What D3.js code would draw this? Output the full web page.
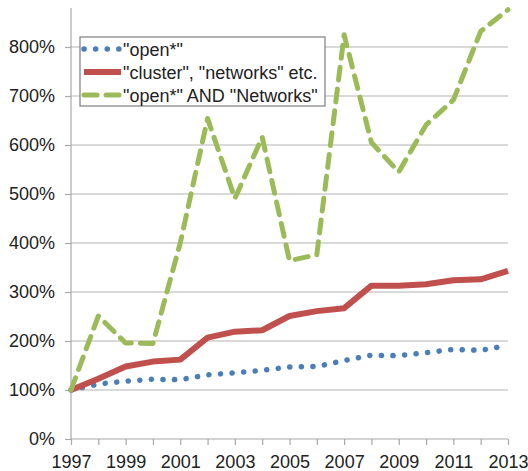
<!DOCTYPE html>
<html>
<head>
  <script src="https://d3js.org/d3.v7.min.js"></script>
  <style>
    body { margin: 0; background: #fff; }
    text { font-family: "Liberation Sans", Arial, sans-serif; fill: #222; }
  </style>
</head>
<body>
  <svg id="chart"></svg>
  <script>
    // years and the three series (in %)
    var years = d3.range(1997, 2014);
    var seriesNames = ['"open*"', '"cluster", "networks" etc.', '"open*" AND "Networks"'];
    var openVals = [100, 112, 118, 122, 121, 131, 135, 140, 147, 148, 160, 171, 170, 176, 183, 181, 191];
    var clusterVals = [100, 123, 148, 158, 162, 207, 219, 222, 251, 261, 267, 313, 313, 316, 324, 326, 343];
    var networkVals = [100, 251, 196, 195, 400, 654, 491, 616, 364, 376, 825, 605, 545, 641, 692, 832, 876];
    var yTicks = [0, 100, 200, 300, 400, 500, 600, 700, 800];
    var xLabels = [1997, 1999, 2001, 2003, 2005, 2007, 2009, 2011, 2013];

    var width = 528, height = 471;
    var svg = d3.select("#chart").attr("width", width).attr("height", height);

    var x = d3.scaleLinear().domain([1997, 2013]).range([71, 508]);
    var y = d3.scaleLinear().domain([0, 800]).range([439, 47]);

    // gridlines
    svg.append("g").selectAll("line")
      .data(yTicks.slice(1))
      .enter().append("line")
      .attr("x1", x(1997)).attr("x2", x(2013))
      .attr("y1", function(d) { return y(d); }).attr("y2", function(d) { return y(d); })
      .attr("stroke", "#b4b4b4").attr("stroke-width", 1.2);

    // y axis
    var yAxis = svg.append("g")
      .attr("transform", "translate(" + x(1997) + ",0)")
      .call(d3.axisLeft(y).tickValues(yTicks).tickSize(6).tickPadding(10)
        .tickFormat(function(d) { return d + "%"; }));
    yAxis.select(".domain").remove();
    yAxis.append("line").attr("x1", 0).attr("x2", 0).attr("y1", 8).attr("y2", y(0))
      .attr("stroke", "#a8a8a8").attr("stroke-width", 1.2);
    yAxis.selectAll(".tick line").attr("stroke", "#a8a8a8").attr("stroke-width", 1.2);
    yAxis.selectAll("text").style("font-size", "18px").attr("fill", "#222");

    // x axis
    var xAxis = svg.append("g")
      .attr("transform", "translate(0," + y(0) + ")")
      .call(d3.axisBottom(x).tickValues(years).tickSize(6).tickPadding(10)
        .tickFormat(function(d) { return xLabels.indexOf(d) >= 0 ? d : ""; }));
    xAxis.select(".domain").attr("stroke", "#a8a8a8").attr("stroke-width", 1.2)
      .attr("d", "M" + x(1997) + ",0H" + x(2013));
    xAxis.selectAll(".tick line").attr("stroke", "#a8a8a8").attr("stroke-width", 1.2);
    xAxis.selectAll("text").style("font-size", "18px").attr("fill", "#222");

    var line = d3.line()
      .x(function(d, i) { return x(years[i]); })
      .y(function(d) { return y(d); });

    var styles = [
      { vals: openVals, color: "#4a7ebb", width: 5.5, dash: "0.1 11.5", cap: "round" },
      { vals: clusterVals, color: "#c0504d", width: 6, dash: null, cap: "butt" },
      { vals: networkVals, color: "#9bbb59", width: 5, dash: "13 9", cap: "round" }
    ];

    styles.forEach(function(s) {
      svg.append("path")
        .datum(s.vals)
        .attr("d", line)
        .attr("fill", "none")
        .attr("stroke", s.color)
        .attr("stroke-width", s.width)
        .attr("stroke-linecap", s.cap)
        .attr("stroke-linejoin", "round")
        .attr("stroke-dasharray", s.dash);
    });

    // legend
    var legend = svg.append("g").attr("transform", "translate(80,37)");
    legend.append("rect").attr("width", 245).attr("height", 69)
      .attr("fill", "#fff").attr("stroke", "#7f7f7f").attr("stroke-width", 1.2);
    styles.forEach(function(s, i) {
      var ly = 12 + i * 23;
      legend.append("line")
        .attr("x1", 4).attr("x2", 41).attr("y1", ly).attr("y2", ly)
        .attr("stroke", s.color).attr("stroke-width", s.width)
        .attr("stroke-linecap", s.cap)
        .attr("stroke-dasharray", s.dash);
      legend.append("text")
        .attr("x", 43).attr("y", ly + 6.5)
        .style("font-size", "18px")
        .text(seriesNames[i]);
    });
  </script>
</body>
</html>
